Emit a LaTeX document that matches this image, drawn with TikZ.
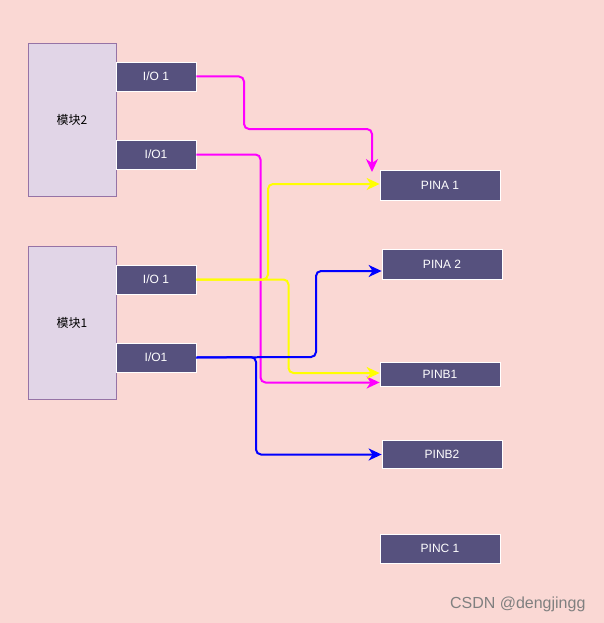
\documentclass[tikz,border=0pt]{standalone}
\usepackage{fontspec}
\setmainfont{Liberation Sans}
\newfontfamily\cjk{Noto Sans CJK SC}
\usetikzlibrary{arrows.meta}
\definecolor{bgc}{RGB}{250,216,212}
\definecolor{modfill}{RGB}{225,213,231}
\definecolor{moddraw}{RGB}{150,115,166}
\definecolor{pinfill}{RGB}{86,81,126}
\definecolor{mag}{RGB}{255,0,255}
\definecolor{yel}{RGB}{255,255,0}
\definecolor{blu}{RGB}{0,0,255}
\tikzset{
  modbox/.style={draw=moddraw, fill=modfill, line width=0.8pt, minimum width=88pt, minimum height=153pt, inner sep=0pt, font=\cjk\fontsize{12}{14}\selectfont},
  pinbox/.style={draw=white, fill=pinfill, line width=0.8pt, text=white, inner sep=0pt, font=\fontsize{12}{14}\selectfont},
  iobox/.style={pinbox, minimum width=80pt, minimum height=29pt},
  tgtbox/.style={pinbox, minimum width=120pt, minimum height=30pt},
  wire/.style={line width=2pt, rounded corners=5pt, -{Stealth[length=13pt,width=12pt,inset=4pt]}},
}
\begin{document}
\begin{tikzpicture}[x=1pt,y=-1pt]
\fill[bgc] (0,0) rectangle (604,623);
\useasboundingbox (0,0) rectangle (604,623);

% modules
\node[modbox] (m2) at (72,119.5) {模块2};
\node[modbox] (m1) at (72,322.5) {模块1};

% IO ports
\node[iobox] (m2a) at (156,76.5) {I/O 1};
\node[iobox] (m2b) at (156,154.5) {I/O1};
\node[iobox] (m1a) at (156,279.5) {I/O 1};
\node[iobox] (m1b) at (156,357.5) {I/O1};

% pins
\node[tgtbox] (pa1) at (440,185) {PINA 1};
\node[tgtbox] (pa2) at (442,264) {PINA 2};
\node[tgtbox, minimum height=24pt] (pb1) at (440,374) {PINB1};
\node[tgtbox, minimum height=28pt] (pb2) at (442,454.7) {PINB2};
\node[tgtbox, minimum height=29pt] (pc1) at (440,548.5) {PINC 1};

% target coordinates
\coordinate (ta1top) at (372,172);
\coordinate (ta1) at (pa1.west |- 0,184);
\coordinate (ta2) at (pa2.west |- 0,271);
\coordinate (tb1y) at (pb1.west |- 0,373);
\coordinate (tb1m) at (pb1.west |- 0,382.5);
\coordinate (tb2) at (pb2.west |- 0,454.5);

% magenta
\draw[wire, mag] (m2a.east) -- (244,76.5) -- (244,129) -- (372,129) -- (ta1top);
\draw[wire, mag] (m2b.east) -- (260.5,154.5) -- (260.5,382.5) -- (tb1m);

% yellow
\draw[wire, yel] (m1a.east) -- (268,279.5) -- (268,184) -- (ta1);
\draw[wire, yel] (m1a.east) -- (288.5,279.5) -- (288.5,373) -- (tb1y);

% blue
\draw[wire, blu] (m1b.east) -- (316,357) -- (316,271) -- (ta2);
\draw[wire, blu] (m1b.east) -- (256,357) -- (256,454.5) -- (tb2);

% watermark
\node[text=black!50, font=\fontsize{16}{18}\selectfont, anchor=east] (wm) at (589,604) {CSDN @dengjingg};
\end{tikzpicture}
\end{document}
